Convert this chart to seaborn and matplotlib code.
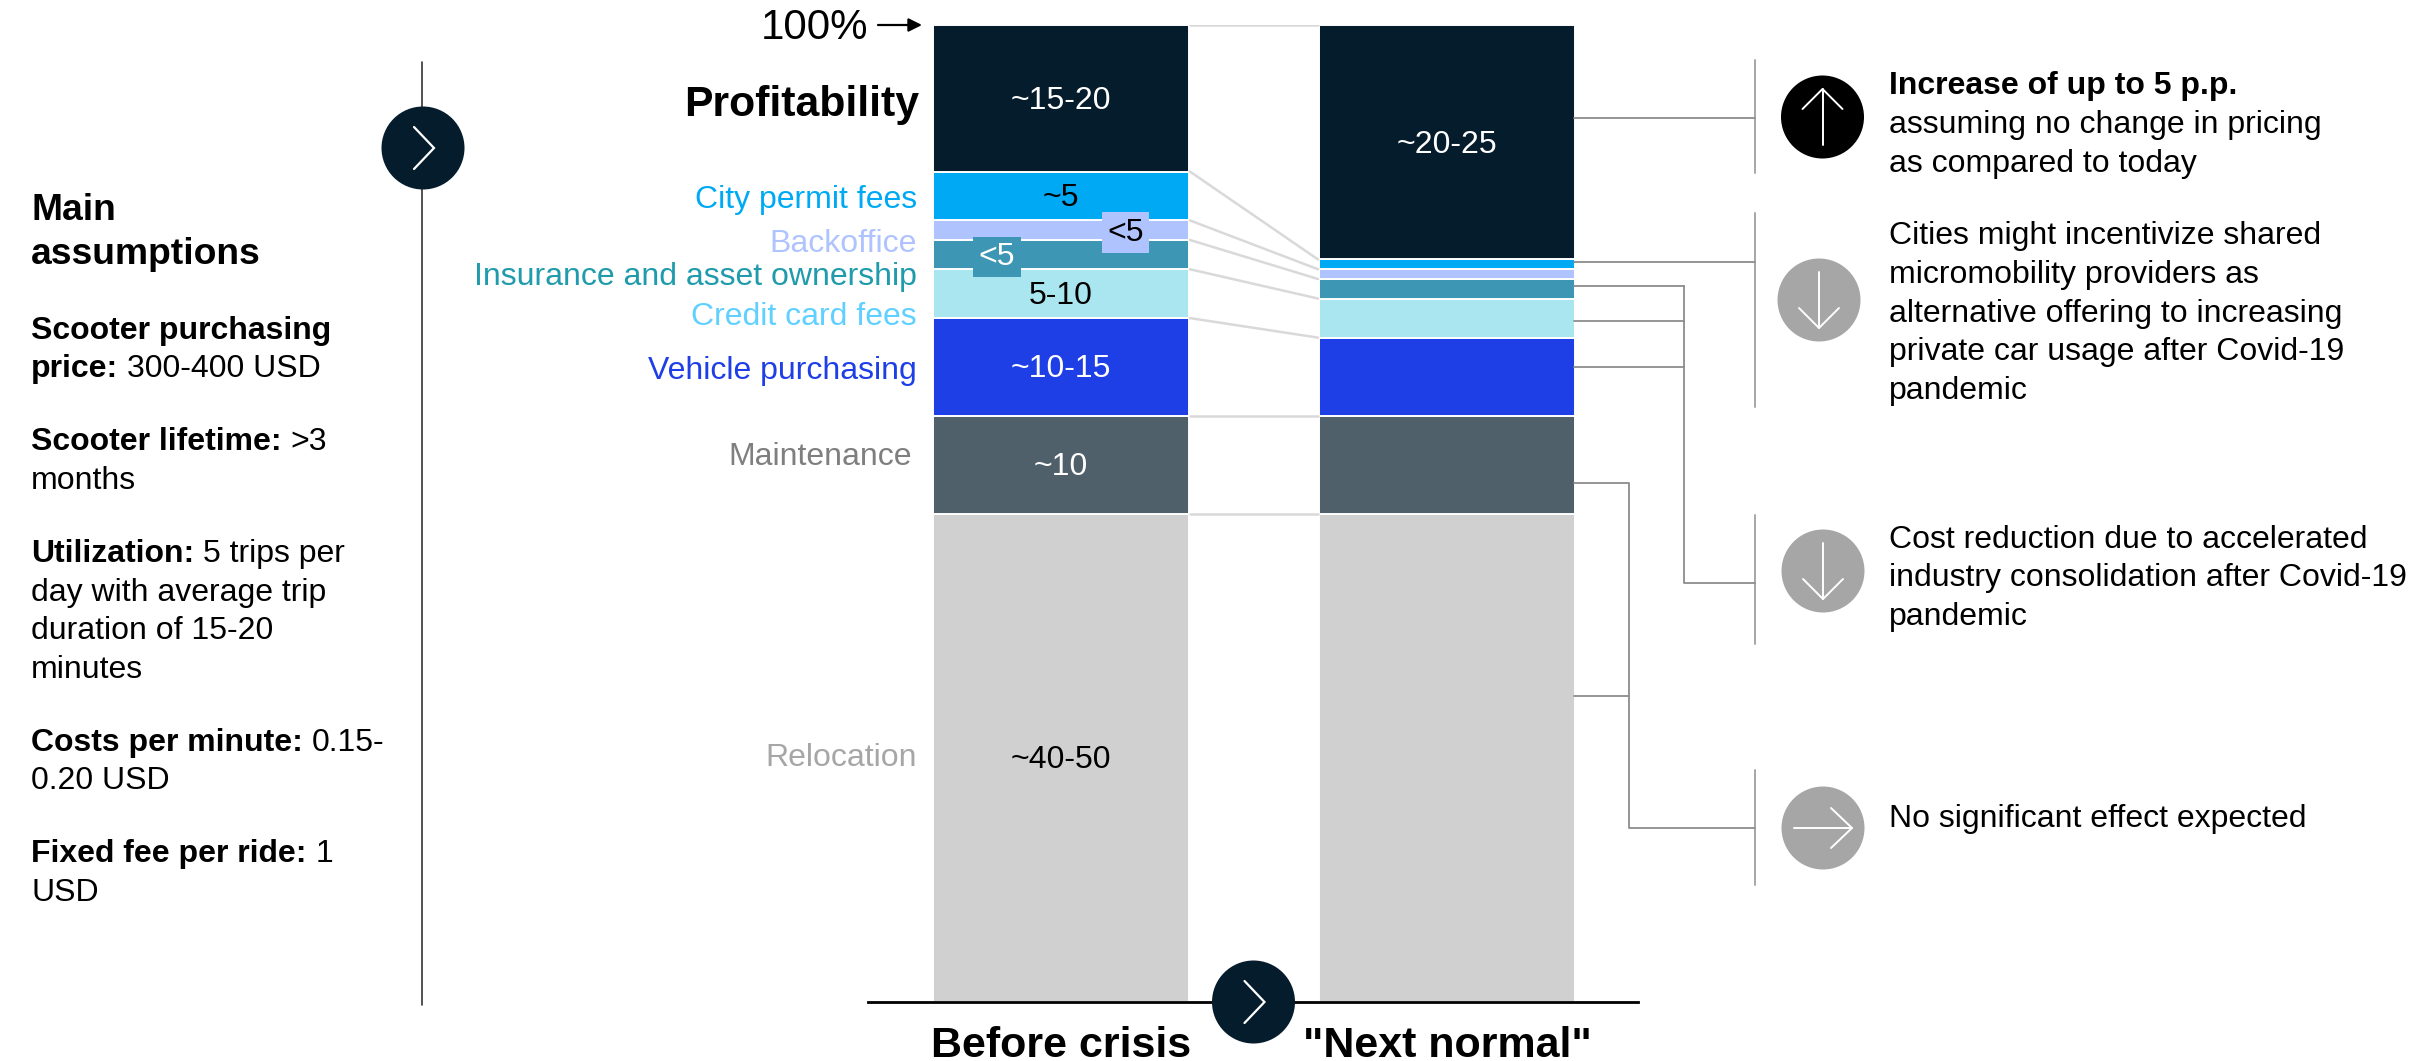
import numpy as np
import pandas as pd
import matplotlib
matplotlib.use("Agg")
import matplotlib.pyplot as plt
from matplotlib.patches import Circle
import seaborn as sns

periods = ["Before crisis", '"Next normal"']
segments = ["Relocation", "Maintenance", "Vehicle purchasing", "Credit card fees",
            "Insurance and asset ownership", "Backoffice", "City permit fees", "Profitability"]
before = [50, 10, 10, 5, 3, 2, 5, 15]
next_normal = [50, 10, 8, 4, 2, 1, 1, 24]
bar_labels = ["~40-50", "~10", "~10-15", "5-10", "<5", "<5", "~5", "~15-20"]
next_profit_label = "~20-25"
seg_colors = ["#d0d0d0", "#4f606a", "#1f3fe6", "#aae6f0", "#3c96b4", "#afc3ff", "#00a9f4", "#051c2c"]
label_colors = ["#a6a6a6", "#7f7f7f", "#1f3fe6", "#5fd0ff", "#1f9bab", "#afc3ff", "#00a9f4", "#000000"]
bar_text_colors = ["black", "white", "white", "black", "white", "black", "black", "white"]

W, H = 2425, 1061
sns.set_theme(style="white")
plt.rcParams["font.family"] = ["Liberation Sans", "DejaVu Sans"]
plt.rcParams["text.color"] = "black"
BODY = 23
DY = 3

fig = plt.figure(figsize=(W / 100, H / 100), dpi=100, facecolor="white")
L, R, T, B = 868, 1638, 25, 1002
ax = fig.add_axes([L / W, 1 - B / H, (R - L) / W, (B - T) / H])

df = pd.DataFrame({"segment": np.repeat(segments, 2),
                   "period": periods * len(segments),
                   "value": np.ravel(np.column_stack([before, next_normal]))})
bottoms = np.zeros(2)
tops_all = []
BAR_W = 0.662
for seg, col in zip(segments, seg_colors):
    sub = df[df["segment"] == seg]
    sns.barplot(data=sub, x="period", y="value", order=periods, color=col, width=BAR_W,
                bottom=bottoms.copy(), errorbar=None, saturation=1, ax=ax,
                edgecolor="white", linewidth=1.4)
    bottoms = bottoms + sub["value"].to_numpy()
    tops_all.append(bottoms.copy())

ax.set_xlim(-0.5, 1.495)
ax.set_ylim(0, 100)
ax.set_xlabel("")
ax.set_ylabel("")
ax.set_yticks([])
sns.despine(ax=ax, left=True)
ax.spines["bottom"].set_color("black")
ax.spines["bottom"].set_linewidth(2)
ax.tick_params(axis="x", length=0, pad=17)
for t in ax.get_xticklabels():
    t.set_fontsize(31)
    t.set_fontweight("bold")
    t.set_color("black")

# connectors between the bars, following the stack boundaries
x0, x1 = BAR_W / 2 + 0.003, 1 - BAR_W / 2 - 0.003
ax.plot([x0, x1], [100, 100], color="#d9d9d9", lw=1.8, zorder=1)
for tp in tops_all[:-1]:
    ax.plot([x0, x1], [tp[0], tp[1]], color="#d9d9d9", lw=1.8, zorder=1)

# value labels inside the bars
base = 0
xoff = {4: -0.166, 5: 0.167}
dy_data = DY * 0.8 / ((B - T) / 100)
for i, (lab, val) in enumerate(zip(bar_labels, before)):
    yc = base + val / 2
    base += val
    kw = {}
    if i in xoff:
        kw["bbox"] = dict(boxstyle="square,pad=0.17", fc=seg_colors[i], ec="none")
    ax.text(xoff.get(i, 0), yc - dy_data, lab, ha="center", va="center", fontsize=BODY,
            color=bar_text_colors[i], zorder=6, **kw)
ax.text(1, 100 - next_normal[-1] / 2 - dy_data, next_profit_label, ha="center", va="center",
        fontsize=BODY, color="white", zorder=6)

# overlay in figure pixels for the surrounding annotation
ov = fig.add_axes([0, 0, 1, 1], facecolor="none")
ov.set_xlim(0, W)
ov.set_ylim(H, 0)
ov.axis("off")

seg_label_pos = {"City permit fees": 197, "Backoffice": 241, "Insurance and asset ownership": 274,
                 "Credit card fees": 314, "Vehicle purchasing": 368, "Maintenance": 454, "Relocation": 754.5}
for seg, c in zip(segments, label_colors):
    if seg in seg_label_pos:
        xr = 912 if seg == "Maintenance" else 917
        ov.text(xr, seg_label_pos[seg] + DY, seg, ha="right", va="center", fontsize=BODY, color=c)
ov.text(919, 102 + DY, "Profitability", ha="right", va="center", fontsize=30.8, fontweight="bold")
ov.text(868, 25 + DY, "100%", ha="right", va="center", fontsize=30.3)
ov.annotate("", xy=(922, 25), xytext=(878, 25),
            arrowprops=dict(arrowstyle="-|>", color="black", lw=1.6, shrinkA=0, shrinkB=0, mutation_scale=20))


def chevron(cx, cy):
    ov.plot([cx - 9, cx + 11, cx - 9], [cy - 21, cy, cy + 21], color="white", lw=1.6, zorder=8,
            solid_capstyle="round", solid_joinstyle="miter")


ov.plot([422, 422], [62, 1005], color="#333333", lw=1.2)
for cx, cy in [(423, 148), (1253.5, 1002)]:
    ov.add_patch(Circle((cx, cy), 41.5, fc="#051c2c", ec="none", zorder=7))
    chevron(cx, cy)

# main assumptions
ov.text(31, 207 + DY, "Main", fontsize=26.8, fontweight="bold", va="center")
ov.text(31, 252 + DY, "assumptions", fontsize=26.8, fontweight="bold", va="center")
assumption_lines = [
    (328, "Scooter purchasing", ""),
    (366, "price:", "300-400 USD"),
    (439, "Scooter lifetime:", ">3"),
    (478, "", "months"),
    (551, "Utilization:", "5 trips per"),
    (590, "", "day with average trip"),
    (628, "", "duration of 15-20"),
    (667, "", "minutes"),
    (740, "Costs per minute:", "0.15-"),
    (778, "", "0.20 USD"),
    (851, "Fixed fee per ride:", "1"),
    (890, "", "USD"),
]
fig.canvas.draw()
rend = fig.canvas.get_renderer()
for y, bold, reg in assumption_lines:
    x = 31
    if bold:
        t = ov.text(x, y + DY, bold, fontsize=BODY, fontweight="bold", va="center")
        x = t.get_window_extent(rend).x1 + 9
    if reg:
        ov.text(x, y + DY, reg, fontsize=BODY, va="center")

# right-hand brackets
BR = "#a6a6a6"
CN = "#8c8c8c"
for y0, y1 in [(60, 173), (213, 407), (515, 644), (770, 885)]:
    ov.plot([1755, 1755], [y0, y1], color=BR, lw=1.4)
ov.plot([1574, 1755], [118, 118], color=CN, lw=1.3)
ov.plot([1574, 1755], [262, 262], color=CN, lw=1.3)
for y in [286, 321, 367]:
    ov.plot([1574, 1684], [y, y], color=CN, lw=1.3)
ov.plot([1684, 1684, 1755], [286, 583, 583], color=CN, lw=1.3)
ov.plot([1574, 1629, 1629, 1755], [483, 483, 828, 828], color=CN, lw=1.3)
ov.plot([1574, 1629], [696, 696], color=CN, lw=1.3)


def icon(cx, cy, col, dirn):
    ov.add_patch(Circle((cx, cy), 41.5, fc=col, ec="none", zorder=5))
    if dirn == "up":
        pts = [(cx, cy + 28), (cx, cy - 28)], [(cx - 20, cy - 8), (cx, cy - 28), (cx + 20, cy - 8)]
    elif dirn == "down":
        pts = [(cx, cy - 28), (cx, cy + 28)], [(cx - 20, cy + 8), (cx, cy + 28), (cx + 20, cy + 8)]
    else:
        pts = [(cx - 29, cy), (cx + 29, cy)], [(cx + 8, cy - 20), (cx + 29, cy), (cx + 8, cy + 20)]
    for p in pts:
        ov.plot(*zip(*p), color="white", lw=1.4, zorder=6)


icon(1822.5, 117, "black", "up")
icon(1819, 300, "#a6a6a6", "down")
icon(1823, 571, "#a6a6a6", "down")
icon(1823, 828, "#a6a6a6", "right")

right_lines = [
    (83, "Increase of up to 5 p.p.", "bold"),
    (122, "assuming no change in pricing", "normal"),
    (161, "as compared to today", "normal"),
    (233, "Cities might incentivize shared", "normal"),
    (272, "micromobility providers as", "normal"),
    (311, "alternative offering to increasing", "normal"),
    (349, "private car usage after Covid-19", "normal"),
    (388, "pandemic", "normal"),
    (537, "Cost reduction due to accelerated", "normal"),
    (575, "industry consolidation after Covid-19", "normal"),
    (614, "pandemic", "normal"),
    (816, "No significant effect expected", "normal"),
]
for y, s, w in right_lines:
    ov.text(1889, y + DY, s, fontsize=BODY, fontweight=w, va="center")

fig.savefig("out.png", dpi=100, facecolor="white")
